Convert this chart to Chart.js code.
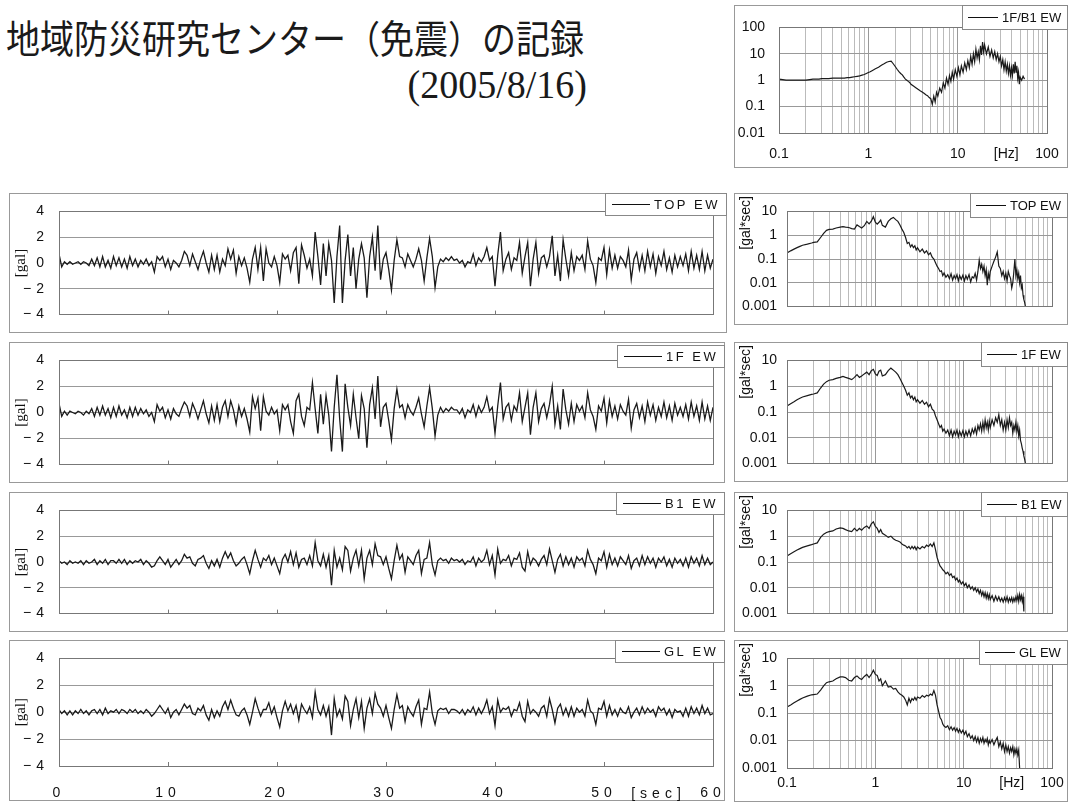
<!DOCTYPE html>
<html lang="ja">
<head>
<meta charset="utf-8">
<title>地域防災研究センター（免震）の記録</title>
<script src="https://cdn.jsdelivr.net/npm/chart.js@4.4.1/dist/chart.umd.min.js"></script>
<style>
html, body { margin: 0; padding: 0; background: #fff; }
body { position: relative; width: 1069px; height: 803px; overflow: hidden; }
canvas { position: absolute; }
#title { position: absolute; left: 6px; top: 18px; font: 34px "Noto Sans CJK JP", sans-serif; color: #1a1a1a; white-space: nowrap; line-height: 1; transform: scaleY(1.12); transform-origin: top left; }
#date { position: absolute; right: 482px; top: 64px; font: 38px "Liberation Serif", serif; color: #1a1a1a; line-height: 1; transform: scaleY(1.05); transform-origin: top right; }
</style>
</head>
<body>
<div id="title">地域防災研究センター（免震）の記録</div>
<div id="date">(2005/8/16)</div>
<script>
// acceleration records, one value every 0.25 s from 0 to 60 s  [gal]
const sampleStep = 0.25
const topEW = [
0.7,-0.3,0.1,-0.1, 0.1,-0.1,0.0,0.1, -0.1,0.1,0.0,-0.2, 0.3,-0.2,0.4,-0.3, 0.5,-0.3,0.2,-0.4,
0.5,-0.2,0.4,-0.3, 0.3,-0.4,0.5,-0.2, 0.3,-0.3,0.2,-0.1, 0.3,-0.2,0.1,-0.7, 0.5,0.2,0.5,-0.3,
0.3,-0.5,0.2,0.0, -0.3,0.2,0.9,0.6, -0.2,0.7,0.1,-0.5, 0.3,0.9,0.0,-0.7, 0.6,-0.5,0.6,-0.7,
0.3,-0.2,1.1,0.3, 1.0,-0.8,0.5,-0.2, 0.4,-0.4,-1.5,0.3, 1.2,-0.5,1.2,-1.4, 1.1,0.0,-0.3,0.5,
-0.2,-1.5,0.7,0.3, 0.6,-0.6,0.8,1.2, -1.6,1.4,0.6,-0.4, 0.3,-1.0,2.4,0.5, -1.7,1.5,-1.0,1.5,
0.2,-3.1,0.5,2.9, -3.1,0.2,2.2,-1.0, 1.2,-2.0,0.3,1.5, 0.4,-2.7,0.5,2.0, -0.6,2.9,-1.3,0.3,
0.8,-0.5,-2.1,0.2, 1.8,0.5,0.4,-0.3, 0.7,0.2,-0.3,0.3, 1.1,0.2,-1.4,0.4, 1.9,0.5,-1.9,-0.3,
0.3,0.1,0.4,0.2, 0.5,0.2,0.3,0.0, 0.2,-0.3,0.1,0.0, 0.7,-0.2,0.4,0.1, 0.5,1.2,0.2,0.5,
-1.8,0.6,2.4,-0.6, 0.3,0.8,-0.5,0.4, 0.2,1.6,-0.8,0.5, 1.6,-1.8,0.3,1.6, -0.8,0.4,0.6,-0.3,
0.5,2.1,-1.0,0.6, -1.4,1.8,0.3,-1.0, 0.8,-0.6,0.5,0.2, 0.6,-0.5,1.7,0.3, -0.2,-1.5,0.4,0.2,
1.2,-0.9,1.0,-0.4, 0.6,-0.4,0.5,0.2, -0.3,1.0,-1.3,0.3, 0.8,-0.5,0.6,-0.6, 0.9,-0.3,0.7,-0.8,
0.5,-0.2,0.9,-0.5, 0.4,-0.7,0.6,-0.3, 0.5,-0.2,0.7,-0.6, 0.9,-0.4,0.6,-0.5, 0.9,-0.6,0.6,-0.4,
0.3]
const f1EW = [
0.7,-0.3,0.1,-0.2, 0.1,0.0,-0.1,0.1, 0.0,-0.2,0.1,-0.1, 0.3,-0.3,0.4,-0.2, 0.5,-0.2,0.3,-0.4,
0.4,-0.3,0.5,-0.2, 0.2,-0.4,0.4,-0.3, 0.4,-0.2,0.3,-0.1, 0.2,-0.3,0.0,-0.7, 0.6,0.1,0.4,-0.4,
0.2,-0.5,0.3,-0.1, -0.3,0.3,0.8,0.5, -0.3,0.7,0.2,-0.5, 0.2,0.9,-0.1,-0.8, 0.5,-0.6,0.6,-0.7,
0.4,0.9,-0.3,0.9, 0.2,-0.9,0.5,-0.3, 0.3,-0.5,-1.5,1.2, 0.3,1.1,-1.4,1.2, 0.1,-0.2,0.4,-0.1,
0.2,-1.4,0.6,0.2, 0.6,-0.7,-1.6,0.9, 1.4,-0.3,-1.0,0.4, 0.2,2.3,0.3,-1.6, 1.4,-0.9,1.3,-0.2,
-3.0,0.4,2.9,-0.5, -3.0,2.2,0.4,-1.0, 1.4,-0.4,-2.0,1.3, 0.3,-2.7,0.6,1.9, -0.5,2.8,-1.1,0.4,
0.7,-0.6,-2.1,0.3, 1.8,0.4,0.6,-0.4, 0.6,0.1,-0.2,0.4, 1.1,-0.1,-1.1,0.5, 1.9,0.3,-1.8,-0.2,
0.4,0.0,0.3,0.1, 0.4,0.2,0.2,-0.1, 0.3,-0.4,0.2,0.0, 0.6,-0.3,0.5,0.0, 0.4,1.2,0.1,0.4,
-1.6,0.5,2.3,-0.5, 0.4,0.7,-0.6,0.5, 0.1,1.5,-0.7,0.4, 1.5,-1.7,0.4,1.5, -0.7,0.3,0.7,-0.4,
0.6,2.0,-0.9,0.5, -1.3,1.8,0.2,-0.9, 0.7,-0.7,0.6,0.1, 0.5,-0.4,1.5,0.2, -0.3,-1.3,0.5,0.1,
1.1,-0.8,0.9,-0.3, 0.5,-0.5,0.6,0.1, -0.2,1.0,-1.2,0.2, 0.7,-0.4,0.5,-0.7, 0.8,-0.2,0.6,-0.6,
0.4,-0.3,0.8,-0.4, 0.5,-0.6,0.7,-0.2, 0.4,-0.3,0.6,-0.5, 0.8,-0.3,0.5,-0.6, 0.8,-0.5,0.5,-0.6,
0.4]
const b1EW = [
0.1,-0.1,0.0,-0.2, 0.1,-0.1,0.0,-0.1, 0.1,-0.2,0.1,-0.1, 0.0,0.2,-0.2,0.1, -0.1,0.2,-0.2,0.1,
0.1,-0.1,0.2,-0.1, 0.2,-0.2,0.1,-0.1, 0.1,0.0,0.2,-0.2, 0.1,-0.1,-0.4,-0.3, 0.1,0.4,0.1,-0.2,
0.2,-0.4,-0.1,0.2, -0.2,0.1,0.6,0.3, 0.4,-0.1,-0.3,0.2, 0.3,0.5,-0.1,-0.5, 0.1,-0.3,0.2,-0.4,
0.3,0.8,0.3,0.7, 0.1,-0.3,-0.1,0.2, 0.4,-0.2,-0.9,0.1, 0.9,0.2,-0.4,0.3, 0.1,0.5,-0.2,0.3,
-0.3,-0.9,0.2,0.6, 0.0,0.8,-0.2,0.7, -0.4,0.2,0.3,-0.2, 0.5,-0.3,1.5,0.1, -0.3,0.6,-0.4,0.5,
-1.8,0.9,-0.4,0.3, -0.6,1.2,0.9,-0.7, 0.3,0.9,-0.3,0.9, -1.3,0.3,0.9,-0.2, 1.4,0.5,0.4,-0.2,
0.4,-0.5,-1.3,0.1, 1.3,0.2,0.6,-0.8, 0.4,0.1,-0.2,0.5, 0.9,-0.9,0.2,0.3, 1.5,-0.2,-1.0,0.1,
0.3,0.1,0.2,-0.1, 0.3,0.1,0.2,0.0, 0.2,-0.2,0.1,0.0, 0.4,-0.3,0.3,0.0, 0.2,0.9,-0.2,0.5,
-1.0,1.0,-0.1,0.2, 0.1,0.5,-0.3,0.3, 0.2,0.7,-0.4,-0.7, 0.8,-0.2,0.3,0.1, -0.3,0.2,0.5,-0.2,
1.0,0.1,-0.8,0.2, 0.6,-0.3,0.4,-0.2, 0.3,-0.4,0.4,0.1, 0.3,-0.3,0.9,0.2, -0.2,-0.9,0.3,0.1,
0.8,-0.4,0.6,-0.2, 0.3,-0.3,0.4,0.1, -0.2,0.5,-0.5,0.1, 0.3,-0.3,0.5,-0.2, 0.4,-0.1,0.3,-0.4,
0.3,0.0,0.4,-0.3, 0.2,-0.4,0.3,-0.1, 0.2,-0.3,0.3,-0.4, 0.4,-0.1,0.3,-0.3, 0.5,-0.2,0.3,-0.2,
0.0]
const glEW = [
0.2,-0.1,0.1,-0.2, 0.1,-0.2,0.1,-0.1, 0.2,-0.1,0.1,-0.2, 0.1,0.2,-0.1,0.2, -0.2,0.3,-0.1,0.1,
0.0,0.2,-0.1,0.2, 0.1,-0.1,0.2,0.0, 0.2,-0.1,0.1,-0.1, 0.2,0.0,-0.3,-0.1, 0.2,0.5,0.2,-0.1,
0.3,-0.4,0.0,0.2, -0.2,0.2,0.6,0.3, 0.5,-0.1,-0.2,0.3, 0.1,0.5,-0.2,-0.6, 0.2,-0.4,0.1,-0.3,
0.4,0.8,0.2,0.9, 0.3,-0.2,-0.3,0.1, 0.3,-0.2,-0.9,0.0, 1.0,0.3,-0.3,0.2, 0.2,0.7,-0.1,0.4,
-0.4,-1.1,0.1,0.8, 0.1,0.6,-0.1,0.5, -0.6,0.6,0.2,-0.1, 0.4,-0.4,1.5,0.2, -0.2,0.5,-0.3,0.4,
-1.7,1.0,-0.3,0.2, -0.5,1.2,0.8,-1.0, 0.2,1.0,-0.4,0.8, -1.2,0.3,1.0,-0.1, 1.4,0.6,0.3,-0.3,
0.5,-0.4,-1.2,0.2, 1.3,0.3,0.5,-0.7, 0.4,0.0,-0.3,0.4, 0.9,-0.9,0.3,0.2, 1.5,-0.1,-0.9,0.1,
0.3,0.2,0.3,-0.1, 0.2,0.2,0.1,-0.1, 0.2,-0.2,0.2,0.0, 0.4,-0.2,0.3,-0.1, 0.3,0.9,-0.1,0.4,
-1.0,0.9,0.0,0.3, 0.2,0.4,-0.3,0.2, 0.1,0.7,-0.3,-0.7, 0.8,-0.1,0.2,0.0, -0.3,0.3,0.5,-0.3,
1.0,0.2,-0.8,0.3, 0.6,-0.2,0.3,-0.3, 0.4,-0.3,0.3,0.0, 0.2,-0.3,0.9,0.1, -0.1,-0.9,0.3,0.2,
0.8,-0.3,0.5,-0.2, 0.2,-0.3,0.3,0.0, -0.1,0.4,-0.4,0.0, 0.3,-0.2,0.4,-0.1, 0.3,0.0,0.2,-0.3,
0.4,0.1,0.3,-0.2, 0.2,-0.4,0.2,0.0, 0.1,-0.3,0.3,-0.3, 0.4,-0.1,0.3,-0.2, 0.5,-0.1,0.3,-0.2,
-0.1]

// Fourier spectra [gal*sec] and transfer function 1F/B1, against frequency [Hz]
const specFreq = [
0.1,0.11,0.12,0.13,0.14,0.15,0.17,0.19,0.2,0.22,
0.24,0.26,0.28,0.3,0.33,0.36,0.4,0.43,0.46,0.5,
0.54,0.58,0.62,0.66,0.7,0.75,0.8,0.85,0.9,0.95,
1.0,1.05,1.1,1.15,1.2,1.3,1.4,1.5,1.6,1.7,
1.8,1.9,2.0,2.1,2.2,2.3,2.4,2.5,2.6,2.7,
2.8,2.9,3.0,3.2,3.4,3.6,3.8,4.0,4.2,4.4,
4.6,4.8,5.0,5.2,5.4,5.6,5.8,6.0,6.3,6.6,
6.9,7.2,7.5,7.8,8.1,8.4,8.7,9.0,9.4,9.8,
10.2,10.6,11,11.5,12,12.5,13,13.5,14,14.5,
15,15.5,16,16.5,17,17.5,18,18.5,19,19.5,
20,21,22,23,24,25,26,27,28,29,
30,31,32,33,34,35,36,37,38,39,
40,41,42,43,44,45,46,47,48,49,
50,52,54,56]
const tfAmp = [
1.1,1.05,1.0,1.0,1.0,1.0,1.0,1.0,1.0,1.05,
1.1,1.1,1.1,1.15,1.15,1.15,1.2,1.2,1.2,1.2,
1.2,1.25,1.25,1.3,1.35,1.4,1.45,1.55,1.65,1.8,
1.95,2.1,2.3,2.5,2.7,3.1,3.7,4.2,4.8,5.1,
5.3,4.2,3.3,2.6,2.1,1.8,1.6,1.3,1.1,1.0,
0.9,0.82,0.7,0.6,0.52,0.45,0.4,0.36,0.32,0.28,
0.26,0.22,0.2,0.12,0.25,0.15,0.35,0.25,0.5,0.35,
0.8,0.5,1.2,0.7,1.5,0.9,2.0,1.1,2.5,1.4,
3.0,1.6,3.5,2.0,4.5,2.5,5.5,3.0,8.0,4.0,
10,5,15,7,12,6,20,9,28,12,
22,10,18,8,14,7,12,6,10,5,
8,3.5,6,2.5,5,2.2,4,1.8,3.5,1.5,
3.0,1.5,4,1.8,5,2.0,3.5,1.2,2.0,0.7,
1.3,1.0,1.4,1.1]
const specTop = [
0.18,0.22,0.26,0.3,0.34,0.38,0.42,0.47,0.5,0.52,
0.8,1.2,1.6,1.75,1.8,2.0,2.2,2.3,2.2,2.1,
1.9,1.8,2.7,2.3,2.0,2.5,3.8,3.0,3.9,6.0,
3.5,2.9,3.5,4.3,2.6,2.2,3.8,4.9,5.6,4.5,
3.8,2.7,1.8,1.3,0.8,0.45,0.5,0.32,0.4,0.3,
0.36,0.24,0.3,0.2,0.26,0.18,0.22,0.15,0.18,0.12,
0.1,0.07,0.05,0.04,0.03,0.032,0.02,0.026,0.017,0.022,
0.015,0.024,0.013,0.02,0.015,0.022,0.012,0.02,0.014,0.021,
0.012,0.02,0.014,0.022,0.011,0.018,0.016,0.025,0.013,0.03,
0.09,0.04,0.06,0.03,0.05,0.02,0.035,0.008,0.025,0.015,
0.03,0.05,0.08,0.12,0.2,0.05,0.04,0.02,0.03,0.015,
0.025,0.012,0.03,0.02,0.015,0.006,0.01,0.03,0.1,0.02,
0.035,0.015,0.025,0.01,0.02,0.006,0.008,0.003,0.002,0.0015,
0.001,null,null,null]
const spec1F = [
0.17,0.21,0.25,0.3,0.34,0.38,0.43,0.48,0.5,0.55,
0.85,1.2,1.5,1.7,1.8,2.0,2.2,2.4,2.2,2.0,
1.8,2.2,2.8,2.2,2.5,3.0,3.5,2.8,4.0,4.5,
3.0,2.6,3.8,4.2,2.5,2.8,4.0,5.0,4.2,3.5,
2.8,2.0,1.4,1.0,0.7,0.45,0.55,0.35,0.42,0.3,
0.38,0.25,0.3,0.22,0.28,0.2,0.24,0.16,0.2,0.13,
0.11,0.07,0.05,0.035,0.025,0.03,0.018,0.022,0.015,0.02,
0.012,0.02,0.011,0.018,0.013,0.02,0.011,0.018,0.012,0.019,
0.011,0.018,0.012,0.02,0.012,0.022,0.015,0.025,0.014,0.03,
0.02,0.035,0.018,0.04,0.02,0.05,0.025,0.04,0.02,0.045,
0.025,0.05,0.03,0.06,0.04,0.08,0.03,0.05,0.02,0.04,
0.02,0.05,0.025,0.06,0.03,0.04,0.015,0.03,0.02,0.04,
0.018,0.03,0.012,0.02,0.008,0.006,0.004,0.003,0.002,0.0015,
0.001,null,null,null]
const specB1 = [
0.17,0.21,0.25,0.29,0.33,0.37,0.42,0.47,0.5,0.55,
0.9,1.2,1.4,1.5,1.6,1.9,2.1,2.0,1.8,1.6,
1.5,2.0,1.6,2.0,1.7,2.2,2.5,2.0,3.0,3.6,
2.4,2.0,1.4,1.8,1.3,1.1,0.9,1.0,0.8,0.7,
0.65,0.6,0.5,0.45,0.42,0.35,0.4,0.32,0.4,0.33,
0.4,0.3,0.38,0.32,0.4,0.35,0.45,0.4,0.5,0.4,
0.55,0.3,0.15,0.1,0.07,0.06,0.05,0.045,0.035,0.04,
0.03,0.035,0.025,0.028,0.02,0.024,0.017,0.02,0.014,0.017,
0.012,0.015,0.01,0.013,0.009,0.011,0.008,0.01,0.007,0.009,
0.006,0.008,0.005,0.007,0.0045,0.0065,0.004,0.006,0.0038,0.0055,
0.0035,0.005,0.003,0.0048,0.0032,0.0045,0.003,0.004,0.0028,0.0042,
0.003,0.0045,0.0028,0.004,0.003,0.0042,0.0028,0.004,0.003,0.0045,
0.0032,0.005,0.003,0.0055,0.0035,0.005,0.003,0.0045,0.0012,null,
null,null,null,null]
const specGL = [
0.17,0.2,0.24,0.28,0.32,0.36,0.42,0.47,0.48,0.5,
0.7,1.0,1.3,1.4,1.5,1.8,2.1,2.1,2.0,1.6,
1.5,2.0,2.3,1.9,1.7,2.2,2.6,2.0,2.6,3.7,
2.6,2.4,1.5,1.8,1.0,1.5,0.9,0.95,0.76,0.8,
0.6,0.5,0.45,0.39,0.3,0.2,0.35,0.25,0.34,0.3,
0.38,0.3,0.39,0.35,0.44,0.38,0.45,0.42,0.5,0.45,
0.67,0.45,0.2,0.12,0.07,0.058,0.04,0.034,0.03,0.035,
0.025,0.032,0.024,0.03,0.022,0.028,0.02,0.026,0.019,0.024,
0.017,0.022,0.014,0.018,0.012,0.015,0.01,0.014,0.009,0.013,
0.008,0.012,0.009,0.013,0.008,0.011,0.009,0.012,0.007,0.01,
0.008,0.011,0.007,0.01,0.013,0.006,0.009,0.005,0.008,0.004,
0.007,0.004,0.006,0.0035,0.0055,0.004,0.006,0.003,0.005,0.0035,
0.005,0.003,0.0045,0.001,null,null,null,null,null,null,
null,null,null,null]

// axis ticks
const freqGrid = [0.1,0.2,0.3,0.4,0.5,0.6,0.7,0.8,0.9,1,2,3,4,5,6,7,8,9,10,20,30,40,50,60,70,80,90,100]
const freqLabels = [0.1, 1, 10, 100]
const specYTicks = [0.001, 0.01, 0.1, 1, 10]
const tfYTicks = [0.01, 0.1, 1, 10, 100]

Chart.defaults.font.family = '"Liberation Sans", Arial, sans-serif'
Chart.defaults.font.size = 14
Chart.defaults.color = '#111'

function addCanvas(box) {
  const c = document.createElement('canvas')
  c.width = box.w
  c.height = box.h
  c.style.left = box.x + 'px'
  c.style.top = box.y + 'px'
  document.body.appendChild(c)
  return c
}

// frame, plot box, legend and axis captions
function framePlugin(o) {
  return {
    id: 'frame',
    beforeDraw(chart) { chart.ctx.letterSpacing = o.spacing },
    afterDraw(chart) {
      const ctx = chart.ctx
      const a = chart.chartArea
      const W = chart.width, H = chart.height
      ctx.save()
      ctx.letterSpacing = '0px'
      ctx.lineWidth = 1
      ctx.strokeStyle = '#999'
      ctx.strokeRect(0.5, 0.5, W - 1, H - 1)
      ctx.strokeStyle = '#777'
      ctx.strokeRect(Math.round(a.left) + 0.5, Math.round(a.top) + 0.5, Math.round(a.right - a.left), Math.round(a.bottom - a.top))

      // y caption
      ctx.fillStyle = '#111'
      ctx.font = o.yTitleFont
      ctx.textBaseline = 'middle'
      ctx.save()
      if (o.yTitleTop != null) {
        ctx.translate(o.yTitleX, o.yTitleTop)
        ctx.rotate(-Math.PI / 2)
        ctx.textAlign = 'right'
      } else {
        ctx.translate(o.yTitleX, (a.top + a.bottom) / 2)
        ctx.rotate(-Math.PI / 2)
        ctx.textAlign = 'center'
      }
      ctx.fillText(o.yTitle, 0, 0)
      ctx.restore()

      // unit caption on the x axis
      if (o.xUnit) {
        const xs = chart.scales.x
        ctx.font = o.xUnitFont
        ctx.letterSpacing = o.spacing
        ctx.textAlign = 'center'
        ctx.fillText(o.xUnit, xs.getPixelForValue(o.xUnitAt), a.bottom + o.xUnitOffset)
        ctx.letterSpacing = '0px'
      }

      // legend
      const label = chart.data.datasets[0].label
      ctx.font = o.legendFont
      ctx.letterSpacing = o.legendSpacing
      const tw = ctx.measureText(label).width
      const bw = Math.round(o.padL + o.lineLen + o.gap + tw + o.padR)
      const x0 = W - 1 - bw, y0 = o.legendTop, h = o.legendH
      ctx.fillStyle = '#fff'
      ctx.fillRect(x0, y0, bw, h)
      ctx.strokeStyle = '#888'
      ctx.strokeRect(x0 + 0.5, y0 + 0.5, bw, h)
      ctx.strokeStyle = '#111'
      ctx.beginPath()
      ctx.moveTo(x0 + o.padL, y0 + Math.round(h / 2) + 0.5)
      ctx.lineTo(x0 + o.padL + o.lineLen, y0 + Math.round(h / 2) + 0.5)
      ctx.stroke()
      ctx.fillStyle = '#111'
      ctx.textAlign = 'left'
      ctx.textBaseline = 'middle'
      ctx.fillText(label, x0 + o.padL + o.lineLen + o.gap, y0 + h / 2 + 1)
      ctx.restore()
    }
  }
}

function waveChart(box, inset, label, values, showX, legendTop) {
  const pts = values.map((v, i) => ({x: i * sampleStep, y: v}))
  new Chart(addCanvas(box), {
    type: 'line',
    data: {datasets: [{label: label, data: pts, borderColor: '#1a1a1a', borderWidth: 1.3, pointRadius: 0, tension: 0}]},
    options: {
      responsive: false,
      animation: false,
      events: [],
      layout: {padding: {left: 0, top: inset.t, right: inset.r, bottom: 0}},
      plugins: {legend: {display: false}, tooltip: {enabled: false}},
      scales: {
        x: {
          type: 'linear', min: 0, max: 60,
          afterFit: s => { s.height = inset.b; s.paddingLeft = 0; s.paddingRight = 0 },
          ticks: {display: showX, stepSize: 10, maxRotation: 0, padding: 23},
          grid: {drawOnChartArea: false, tickLength: -4, color: '#777'},
          border: {display: false}
        },
        y: {
          min: -4, max: 4,
          afterFit: s => { s.width = inset.l },
          ticks: {stepSize: 2, padding: 10, callback: v => v < 0 ? '\u2212' + (-v) : String(v)},
          grid: {color: '#999', drawTicks: false},
          border: {display: false}
        }
      }
    },
    plugins: [framePlugin({
      spacing: '5px',
      yTitle: '[gal]', yTitleFont: '15px "Liberation Serif", serif', yTitleX: 12,
      xUnit: showX ? '[sec]' : null, xUnitFont: '14px "Liberation Sans", sans-serif', xUnitAt: 55, xUnitOffset: 28,
      legendFont: '13px "Liberation Sans", sans-serif', legendSpacing: '2.5px',
      legendTop: legendTop, legendH: 22, padL: 7, lineLen: 38, gap: 4, padR: 6
    })]
  })
}

function specChart(box, inset, label, freq, values, o) {
  const pts = freq.map((f, i) => ({x: f, y: values[i]}))
  new Chart(addCanvas(box), {
    type: 'line',
    data: {datasets: [{label: label, data: pts, borderColor: '#1a1a1a', borderWidth: 1.2, pointRadius: 0, tension: 0, spanGaps: false}]},
    options: {
      responsive: false,
      animation: false,
      events: [],
      layout: {padding: {left: 0, top: inset.t, right: inset.r, bottom: 0}},
      plugins: {legend: {display: false}, tooltip: {enabled: false}},
      scales: {
        x: {
          type: 'logarithmic', min: 0.1, max: 100,
          afterFit: s => { s.height = inset.b; s.paddingLeft = 0; s.paddingRight = 0 },
          afterBuildTicks: s => { s.ticks = freqGrid.map(v => ({value: v})) },
          ticks: {display: o.showX, autoSkip: false, maxRotation: 0, padding: o.xPad,
                  callback: v => freqLabels.includes(v) ? String(v) : ''},
          grid: {color: c => freqLabels.includes(c.tick.value) ? '#999' : '#bbb', drawTicks: false},
          border: {display: false}
        },
        y: {
          type: 'logarithmic', min: o.yTicks[0], max: o.yTicks[o.yTicks.length - 1],
          afterFit: s => { s.width = inset.l },
          afterBuildTicks: s => { s.ticks = o.yTicks.map(v => ({value: v})) },
          ticks: {padding: o.yPad, callback: v => String(v)},
          grid: {color: '#999', drawTicks: false},
          border: {display: false}
        }
      }
    },
    plugins: [framePlugin({
      spacing: '0px',
      yTitle: o.yTitle, yTitleFont: '14px "Liberation Sans", sans-serif', yTitleX: 12, yTitleTop: 3,
      xUnit: o.showX ? '[Hz]' : null, xUnitFont: '14px "Liberation Sans", sans-serif', xUnitAt: 35, xUnitOffset: o.xPad + 8,
      legendFont: '13px "Liberation Sans", sans-serif', legendSpacing: '0px',
      legendTop: 0, legendH: 24, padL: 6, lineLen: 30, gap: 4, padR: 6
    })]
  })
}

// time histories
waveChart({x: 9, y: 193, w: 718, h: 140}, {l: 50, t: 13, r: 14, b: 13}, 'TOP EW', topEW, false, 0)
waveChart({x: 9, y: 342, w: 716, h: 141}, {l: 50, t: 13, r: 12, b: 13}, '1F EW', f1EW, false, 3)
waveChart({x: 9, y: 492, w: 716, h: 140}, {l: 50, t: 11, r: 12, b: 14}, 'B1 EW', b1EW, false, 0)
waveChart({x: 9, y: 640, w: 716, h: 161}, {l: 50, t: 13, r: 12, b: 35}, 'GL EW', glEW, true, 0)

// spectra
specChart({x: 734, y: 5, w: 334, h: 163}, {l: 45, t: 12, r: 21, b: 35}, '1F/B1 EW', specFreq, tfAmp,
  {showX: true, xPad: 13, yTicks: tfYTicks, yPad: 14, yTitle: ''})
specChart({x: 734, y: 193, w: 334, h: 132}, {l: 53, t: 12, r: 16, b: 4}, 'TOP EW', specFreq, specTop,
  {showX: false, xPad: 0, yTicks: specYTicks, yPad: 10, yTitle: '[gal*sec]'})
specChart({x: 734, y: 342, w: 334, h: 140}, {l: 53, t: 12, r: 16, b: 14}, '1F EW', specFreq, spec1F,
  {showX: false, xPad: 0, yTicks: specYTicks, yPad: 10, yTitle: '[gal*sec]'})
specChart({x: 734, y: 492, w: 334, h: 140}, {l: 53, t: 13, r: 16, b: 13}, 'B1 EW', specFreq, specB1,
  {showX: false, xPad: 0, yTicks: specYTicks, yPad: 10, yTitle: '[gal*sec]'})
specChart({x: 734, y: 640, w: 334, h: 162}, {l: 53, t: 14, r: 16, b: 34}, 'GL EW', specFreq, specGL,
  {showX: true, xPad: 7, yTicks: specYTicks, yPad: 10, yTitle: '[gal*sec]'})
</script>
</body>
</html>
